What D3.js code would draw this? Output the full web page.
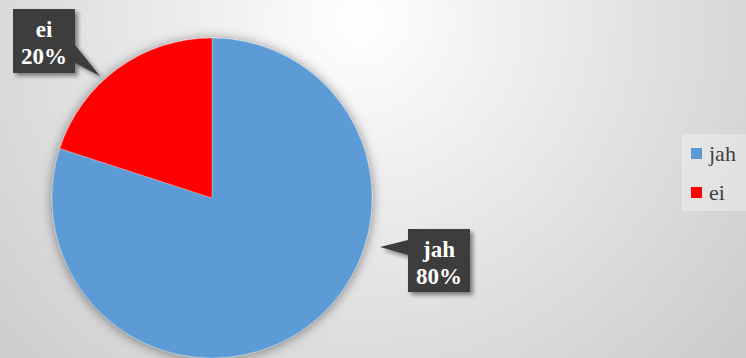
<!DOCTYPE html>
<html>
<head>
<meta charset="utf-8">
<script src="https://cdn.jsdelivr.net/npm/d3@7"></script>
<style>
  html, body { margin: 0; padding: 0; background: #fff; }
  svg { display: block; }
</style>
</head>
<body>
<svg id="chart" width="746" height="358"></svg>
<script>
// Survey answers
const categories = ["jah", "ei"];
const values = [80, 20];
const colors = ["#5B9BD5", "#FF0000"];

const W = 746, H = 358;
const cx = 212, cy = 198, radius = 160;
const serif = "'Liberation Serif', 'Times New Roman', Times, serif";

// Callout boxes: [box x, box y, box w, box h], pointer tip, pointer base on box edge
const callouts = {
  jah: { box: [408, 229, 62, 63], tip: [380, 247], base: [[408, 240], [408, 255]] },
  ei:  { box: [13, 9, 62, 64],   tip: [100, 76],  base: [[75, 45], [75, 63]] }
};

const svg = d3.select("#chart");
const defs = svg.append("defs");

// Chart area background: soft radial light spot near the top
const bg = defs.append("radialGradient")
  .attr("id", "bgGrad")
  .attr("gradientUnits", "userSpaceOnUse")
  .attr("cx", 360).attr("cy", 20).attr("r", 560);
bg.append("stop").attr("offset", 0).attr("stop-color", "#ffffff");
bg.append("stop").attr("offset", 0.55).attr("stop-color", "#dfdfdf");
bg.append("stop").attr("offset", 1).attr("stop-color", "#c6c6c6");

svg.append("rect").attr("width", W).attr("height", H).attr("fill", "url(#bgGrad)");

// Soft shadow around the pie
const pieShadow = defs.append("filter").attr("id", "pieShadow")
  .attr("x", "-20%").attr("y", "-20%").attr("width", "140%").attr("height", "140%");
pieShadow.append("feDropShadow")
  .attr("dx", 0).attr("dy", 1).attr("stdDeviation", 6)
  .attr("flood-color", "#000").attr("flood-opacity", 0.45);

// Shadow for callouts
const boxShadow = defs.append("filter").attr("id", "boxShadow")
  .attr("x", "-20%").attr("y", "-20%").attr("width", "150%").attr("height", "150%");
boxShadow.append("feDropShadow")
  .attr("dx", 3).attr("dy", 3).attr("stdDeviation", 2)
  .attr("flood-color", "#000").attr("flood-opacity", 0.45);

// Dotted dark texture of callouts
const pat = defs.append("pattern").attr("id", "dots")
  .attr("patternUnits", "userSpaceOnUse").attr("width", 4).attr("height", 4);
pat.append("rect").attr("width", 4).attr("height", 4).attr("fill", "#3a3a3a");
pat.append("circle").attr("cx", 1).attr("cy", 1).attr("r", 0.7).attr("fill", "#4a4a4a");
pat.append("circle").attr("cx", 3).attr("cy", 3).attr("r", 0.7).attr("fill", "#444444");

const data = categories.map((c, i) => ({ category: c, value: values[i], color: colors[i] }));
const total = d3.sum(values);

const pie = d3.pie().sort(null).value(d => d.value);
const arc = d3.arc().innerRadius(0).outerRadius(radius);

const gPie = svg.append("g")
  .attr("transform", `translate(${cx},${cy})`)
  .attr("filter", "url(#pieShadow)");

gPie.selectAll("path")
  .data(pie(data))
  .join("path")
  .attr("d", arc)
  .attr("fill", d => d.data.color)
  .attr("stroke", "rgba(255,255,255,0.35)")
  .attr("stroke-width", 0.75);

// Data label callouts
data.forEach(d => {
  const c = callouts[d.category];
  const [bx, by, bw, bh] = c.box;
  const g = svg.append("g").attr("filter", "url(#boxShadow)");
  const shape = d3.path();
  shape.moveTo(bx, by);
  shape.lineTo(bx + bw, by);
  if (c.base[0][0] === bx + bw) {
    shape.lineTo(c.base[0][0], c.base[0][1]);
    shape.lineTo(c.tip[0], c.tip[1]);
    shape.lineTo(c.base[1][0], c.base[1][1]);
  }
  shape.lineTo(bx + bw, by + bh);
  shape.lineTo(bx, by + bh);
  if (c.base[0][0] === bx) {
    shape.lineTo(c.base[1][0], c.base[1][1]);
    shape.lineTo(c.tip[0], c.tip[1]);
    shape.lineTo(c.base[0][0], c.base[0][1]);
  }
  shape.closePath();
  g.append("path").attr("d", shape.toString()).attr("fill", "url(#dots)");

  const pct = Math.round(d.value / total * 100) + "%";
  const t = svg.append("text")
    .attr("x", bx + bw / 2)
    .attr("text-anchor", "middle")
    .attr("font-family", serif)
    .attr("font-weight", "bold")
    .attr("font-size", 23)
    .attr("fill", "#ffffff");
  t.append("tspan").attr("x", bx + bw / 2).attr("y", by + 28).text(d.category);
  t.append("tspan").attr("x", bx + bw / 2).attr("y", by + 55).text(pct);
});

// Legend
const legend = svg.append("g");
legend.append("rect")
  .attr("x", 682).attr("y", 134).attr("width", 64).attr("height", 77)
  .attr("fill", "rgba(255,255,255,0.3)");

const items = legend.selectAll("g.item")
  .data(data)
  .join("g")
  .attr("class", "item")
  .attr("transform", (d, i) => `translate(691, ${148 + i * 39})`);

items.append("rect")
  .attr("width", 11).attr("height", 11)
  .attr("fill", d => d.color);

items.append("text")
  .attr("x", 18).attr("y", 13)
  .attr("font-family", serif)
  .attr("font-size", 22)
  .attr("fill", "#404040")
  .text(d => d.category);
</script>
</body>
</html>
